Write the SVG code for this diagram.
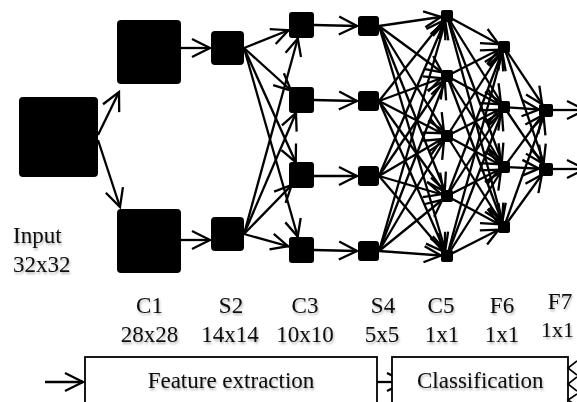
<svg xmlns="http://www.w3.org/2000/svg" width="577" height="402" viewBox="0 0 577 402">
<style>
.n{fill:#000}
.c line{stroke:#000;stroke-width:2.3;fill:none}
.t{font-family:"Liberation Serif","Times New Roman",serif;font-size:23px;fill:#0a0a0a;filter:url(#ts)}
.m{text-anchor:middle}
.box{fill:#fff;stroke:#000;stroke-width:1.8}
.ah{fill:none;stroke:#000;stroke-width:2.3}
</style>
<defs>
<filter id="ts" x="-20%" y="-30%" width="140%" height="170%"><feDropShadow dx="1" dy="2" stdDeviation="1.2" flood-color="#000" flood-opacity="0.3"/></filter>
<marker id="a0" markerUnits="userSpaceOnUse" markerWidth="44" markerHeight="44" viewBox="-22 -22 44 44" refX="0" refY="0" orient="auto" overflow="visible"><path class="ah" d="M-18,-9 L0,0 L-18,9"/></marker>
<marker id="a6" markerUnits="userSpaceOnUse" markerWidth="44" markerHeight="44" viewBox="-22 -22 44 44" refX="6" refY="0" orient="auto" overflow="visible"><path class="ah" d="M-17,-8 L0,0 L-17,8"/></marker>
<marker id="a7" markerUnits="userSpaceOnUse" markerWidth="44" markerHeight="44" viewBox="-22 -22 44 44" refX="7" refY="0" orient="auto" overflow="visible"><path class="ah" d="M-17,-8 L0,0 L-17,8"/></marker>
<marker id="a14" markerUnits="userSpaceOnUse" markerWidth="44" markerHeight="44" viewBox="-22 -22 44 44" refX="14" refY="0" orient="auto" overflow="visible"><path class="ah" d="M-17,-8 L0,0 L-17,8"/></marker>
</defs>
<rect width="577" height="402" fill="#fff"/>
<g id="connectors" class="c">
<g marker-end="url(#a0)">
<line x1="98" y1="135" x2="119" y2="92"/>
<line x1="98" y1="140" x2="120" y2="207"/>
<line x1="181" y1="48" x2="210" y2="48"/>
<line x1="181" y1="240" x2="210" y2="240"/>
<line x1="314" y1="25" x2="357" y2="26"/>
<line x1="314" y1="100" x2="357" y2="101"/>
<line x1="314" y1="176" x2="357" y2="176"/>
<line x1="314" y1="250" x2="357" y2="251"/>
<line x1="553" y1="110" x2="585" y2="110"/>
<line x1="553" y1="169" x2="585" y2="169"/>
<line x1="45" y1="382" x2="83" y2="382"/>
<line x1="377" y1="382" x2="405" y2="382"/>
</g>
<g marker-end="url(#a14)">
<line x1="244" y1="48" x2="301.5" y2="25"/>
<line x1="244" y1="48" x2="301.5" y2="100"/>
<line x1="244" y1="48" x2="301.5" y2="175"/>
<line x1="244" y1="48" x2="301.5" y2="250"/>
<line x1="244" y1="234" x2="301.5" y2="25"/>
<line x1="244" y1="234" x2="301.5" y2="100"/>
<line x1="244" y1="234" x2="301.5" y2="175"/>
<line x1="244" y1="234" x2="301.5" y2="250"/>
</g>
<g marker-end="url(#a6)">
<line x1="379" y1="26" x2="447" y2="16"/><line x1="379" y1="26" x2="447" y2="76"/><line x1="379" y1="26" x2="447" y2="136"/><line x1="379" y1="26" x2="447" y2="196"/><line x1="379" y1="26" x2="447" y2="256"/>
<line x1="379" y1="101" x2="447" y2="16"/><line x1="379" y1="101" x2="447" y2="76"/><line x1="379" y1="101" x2="447" y2="136"/><line x1="379" y1="101" x2="447" y2="196"/><line x1="379" y1="101" x2="447" y2="256"/>
<line x1="379" y1="176" x2="447" y2="16"/><line x1="379" y1="176" x2="447" y2="76"/><line x1="379" y1="176" x2="447" y2="136"/><line x1="379" y1="176" x2="447" y2="196"/><line x1="379" y1="176" x2="447" y2="256"/>
<line x1="379" y1="251" x2="447" y2="16"/><line x1="379" y1="251" x2="447" y2="76"/><line x1="379" y1="251" x2="447" y2="136"/><line x1="379" y1="251" x2="447" y2="196"/><line x1="379" y1="251" x2="447" y2="256"/>
<line x1="447" y1="16" x2="504" y2="47"/><line x1="447" y1="16" x2="504" y2="107"/><line x1="447" y1="16" x2="504" y2="167"/><line x1="447" y1="16" x2="504" y2="227"/>
<line x1="447" y1="76" x2="504" y2="47"/><line x1="447" y1="76" x2="504" y2="107"/><line x1="447" y1="76" x2="504" y2="167"/><line x1="447" y1="76" x2="504" y2="227"/>
<line x1="447" y1="136" x2="504" y2="47"/><line x1="447" y1="136" x2="504" y2="107"/><line x1="447" y1="136" x2="504" y2="167"/><line x1="447" y1="136" x2="504" y2="227"/>
<line x1="447" y1="196" x2="504" y2="47"/><line x1="447" y1="196" x2="504" y2="107"/><line x1="447" y1="196" x2="504" y2="167"/><line x1="447" y1="196" x2="504" y2="227"/>
<line x1="447" y1="256" x2="504" y2="47"/><line x1="447" y1="256" x2="504" y2="107"/><line x1="447" y1="256" x2="504" y2="167"/><line x1="447" y1="256" x2="504" y2="227"/>
</g>
<g marker-end="url(#a7)">
<line x1="504" y1="47" x2="546" y2="110"/><line x1="504" y1="47" x2="546" y2="169"/>
<line x1="504" y1="107" x2="546" y2="110"/><line x1="504" y1="107" x2="546" y2="169"/>
<line x1="504" y1="167" x2="546" y2="110"/><line x1="504" y1="167" x2="546" y2="169"/>
<line x1="504" y1="227" x2="546" y2="110"/><line x1="504" y1="227" x2="546" y2="169"/>
</g>
</g>
<g id="input"><rect class="n" x="19" y="97" width="79" height="80" rx="4"/><text class="t" x="13" y="243">Input</text><text class="t" x="13" y="272">32x32</text></g>
<g id="c1"><rect class="n" x="117" y="20" width="64" height="64" rx="4"/><rect class="n" x="117" y="209" width="64" height="64" rx="4"/><text class="t m" x="149.5" y="313">C1</text><text class="t m" x="149.5" y="342">28x28</text></g>
<g id="s2"><rect class="n" x="211" y="31" width="33" height="34" rx="4"/><rect class="n" x="211" y="217" width="33" height="34" rx="4"/><text class="t m" x="231" y="313">S2</text><text class="t m" x="230" y="342">14x14</text></g>
<g id="c3"><rect class="n" x="289" y="12" width="25" height="26" rx="3"/><rect class="n" x="289" y="87" width="25" height="26" rx="3"/><rect class="n" x="289" y="162" width="25" height="26" rx="3"/><rect class="n" x="289" y="237" width="25" height="26" rx="3"/><text class="t m" x="305" y="313">C3</text><text class="t m" x="305" y="342">10x10</text></g>
<g id="s4"><rect class="n" x="358" y="16" width="21" height="20" rx="3"/><rect class="n" x="358" y="91" width="21" height="20" rx="3"/><rect class="n" x="358" y="166" width="21" height="20" rx="3"/><rect class="n" x="358" y="241" width="21" height="20" rx="3"/><text class="t m" x="383" y="313">S4</text><text class="t m" x="382" y="342">5x5</text></g>
<g id="c5"><rect class="n" x="441" y="10" width="12" height="12" rx="2"/><rect class="n" x="441" y="70" width="12" height="12" rx="2"/><rect class="n" x="441" y="130" width="12" height="12" rx="2"/><rect class="n" x="441" y="190" width="12" height="12" rx="2"/><rect class="n" x="441" y="250" width="12" height="12" rx="2"/><text class="t m" x="441" y="313">C5</text><text class="t m" x="442" y="342">1x1</text></g>
<g id="f6"><rect class="n" x="498" y="41" width="12" height="12" rx="2"/><rect class="n" x="498" y="101" width="12" height="12" rx="2"/><rect class="n" x="498" y="161" width="12" height="12" rx="2"/><rect class="n" x="498" y="221" width="12" height="12" rx="2"/><text class="t m" x="502" y="313">F6</text><text class="t m" x="502" y="342">1x1</text></g>
<g id="f7"><rect class="n" x="539" y="104" width="14" height="13" rx="2"/><rect class="n" x="539" y="163" width="14" height="13" rx="2"/><text class="t m" x="560" y="309">F7</text><text class="t" x="541" y="337" style="font-size:22px">1x1</text></g>
<g id="feature-extraction"><rect class="box" x="85" y="357" width="292" height="60"/><text class="t m" x="231" y="388">Feature extraction</text></g>
<g id="classification"><rect class="box" x="392" y="357" width="176" height="60"/><text class="t" x="417" y="388">Classification</text><path d="M577,361 L568,368 L577,375 M577,377 L568,384 L577,391 M577,394 L568,400 L577,406" fill="none" stroke="#000" stroke-width="1.6"/></g>
</svg>
